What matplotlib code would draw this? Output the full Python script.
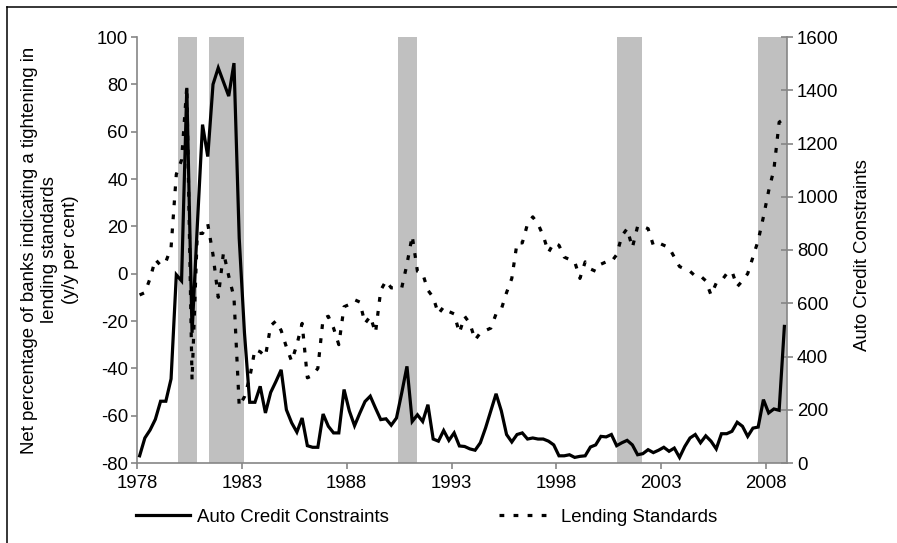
import numpy as np
import pandas as pd
import matplotlib
matplotlib.use("Agg")
import matplotlib.pyplot as plt
from matplotlib.lines import Line2D

plt.rcParams['font.family'] = ['Liberation Sans', 'DejaVu Sans']
plt.rcParams['axes.unicode_minus'] = False

# ---- data -----------------------------------------------------------------
quarters = pd.period_range("1978Q1", "2008Q4", freq="Q")

# Net percentage of banks tightening lending standards (left axis)
lending_standards = [
    -9, -8, -2, 6, 3.5, 5, 11, 42, 48, 79,
    -45, 17, 17, 21, 8, -10, 9, -1, -10, -56,
    -52, -44, -32, -33, -35, -22, -20, -24, -31, -37,
    -30, -21, -44, -43, -40, -19, -18, -23, -30, -14,
    -13, -11, -12, -21, -18, -25, -7, -3, -6, -6,
    -6, 4, 16, 1, 0, -7, -10, -17, -14, -16,
    -17, -25, -18, -21, -28, -25, -24, -23, -17, -15,
    -8, -2, 13, 13, 21, 24, 21, 16, 9, 13,
    12, 7, 6, 5, -2, 5, 2, 1, 4, 5,
    5, 8, 16, 19, 11, 20, 20, 19, 12, 13,
    12, 11, 7, 3, 2, 1, -1, -1, -3, -9,
    -4, -3, 0, 1, -5.5, -3, 0, 7, 14, 24,
    35, 44, 64, 65.5,
]

# Auto credit constraints index (right axis)
auto_credit_constraints = [
    27, 94, 124, 164, 232, 232, 316, 707, 684, 1409,
    489, 889, 1271, 1151, 1422, 1484, 1431, 1378, 1502, 844,
    489, 228, 228, 288, 188, 265, 306, 350, 200, 151,
    116, 169, 65, 59, 59, 184, 138, 113, 113, 276,
    196, 140, 187, 231, 251, 206, 163, 166, 142, 169,
    263, 363, 156, 181, 156, 219, 90, 82, 122, 85,
    113, 64, 62, 53, 48, 76, 132, 196, 260, 196,
    107, 79, 107, 113, 90, 94, 90, 90, 82, 68,
    27, 27, 31, 21, 25, 27, 60, 68, 100, 98,
    107, 65, 76, 85, 68, 31, 35, 50, 39, 48,
    59, 44, 56, 21, 62, 94, 107, 76, 102, 82,
    53, 110, 110, 119, 153, 138, 100, 131, 135, 238,
    188, 203, 198, 513,
]

# Recession periods (decimal years)
recession_start = [1979.95, 1981.45, 1990.45, 2000.9, 2007.6]
recession_end = [1980.85, 1983.1, 1991.35, 2002.1, 2009.0]

year_ticks = [1978, 1983, 1988, 1993, 1998, 2003, 2008]
left_ticks = [-80, -60, -40, -20, 0, 20, 40, 60, 80, 100]
right_ticks = [0, 200, 400, 600, 800, 1000, 1200, 1400, 1600]

# quarter midpoints in decimal years
x = quarters.year + (quarters.quarter - 0.5) / 4.0

# ---- figure ---------------------------------------------------------------
W, H = 897, 543
fig = plt.figure(figsize=(W / 100, H / 100), dpi=100)
FS = 13.4
AXIS_GREY = "#868686"
DOTS = (0, (1.5, 2.9))

ax = fig.add_axes([137 / W, 1 - 463 / H, 650 / W, 426 / H])
ax2 = ax.twinx()

ax.set_xlim(1978, 2009)
ax.set_ylim(-80, 100)
ax2.set_ylim(0, 1600)

for s, e in zip(recession_start, recession_end):
    ax.axvspan(s, e, color="#C0C0C0", lw=0, zorder=0)

ax.plot(x, lending_standards, color="black", lw=2.3,
        linestyle=DOTS, dash_capstyle="butt", zorder=3)
ax2.plot(x, auto_credit_constraints, color="black", lw=2.3,
         solid_joinstyle="miter", zorder=3)

# spines
for a in (ax, ax2):
    a.spines["top"].set_visible(False)
    for sp in ("left", "right", "bottom"):
        a.spines[sp].set_color(AXIS_GREY)
        a.spines[sp].set_linewidth(1.2)
ax.spines["right"].set_visible(False)
ax2.spines["left"].set_visible(False)
ax2.spines["bottom"].set_visible(False)

ax.set_xticks(year_ticks)
ax.set_xticklabels([str(y) for y in year_ticks])
ax.set_yticks(left_ticks)
ax2.set_yticks(right_ticks)

ax.tick_params(axis="y", direction="out", length=4, width=1.2,
               color=AXIS_GREY, labelsize=FS, pad=2.5)
ax.tick_params(axis="x", direction="out", length=4, width=1.2,
               color=AXIS_GREY, labelsize=FS, pad=4.5)
ax2.tick_params(axis="y", direction="inout", length=8.5, width=1.2,
                color=AXIS_GREY, labelsize=FS, pad=3)

# axis titles
fig.text(50 / W, 1 - 250 / H,
         "Net percentage of banks indicating a tightening in\n"
         "lending standards\n(y/y per cent)",
         rotation=90, ha="center", va="center", multialignment="center",
         linespacing=1.3, fontsize=FS)
fig.text(862 / W, 1 - 255 / H, "Auto Credit Constraints",
         rotation=90, ha="center", va="center", fontsize=FS)

# legend
handles = [
    Line2D([], [], color="black", lw=2.3),
    Line2D([], [], color="black", lw=2.3, linestyle=DOTS,
           dash_capstyle="butt"),
]
fig.legend(handles, ["Auto Credit Constraints", "Lending Standards"],
           loc="center left", bbox_to_anchor=(136 / W, 1 - 517 / H),
           ncol=2, frameon=False, fontsize=FS, handlelength=2.9,
           handletextpad=0.4, columnspacing=5.9, borderpad=0,
           borderaxespad=0)

# outer frame (left and top edges)
fig.add_artist(Line2D([7 / W, 7 / W], [0, 1 - 7 / H],
                      transform=fig.transFigure, color="black", lw=1.1))
fig.add_artist(Line2D([7 / W, 1], [1 - 7 / H, 1 - 7 / H],
                      transform=fig.transFigure, color="black", lw=1.1))

fig.savefig("out.png", dpi=100, facecolor="white")
